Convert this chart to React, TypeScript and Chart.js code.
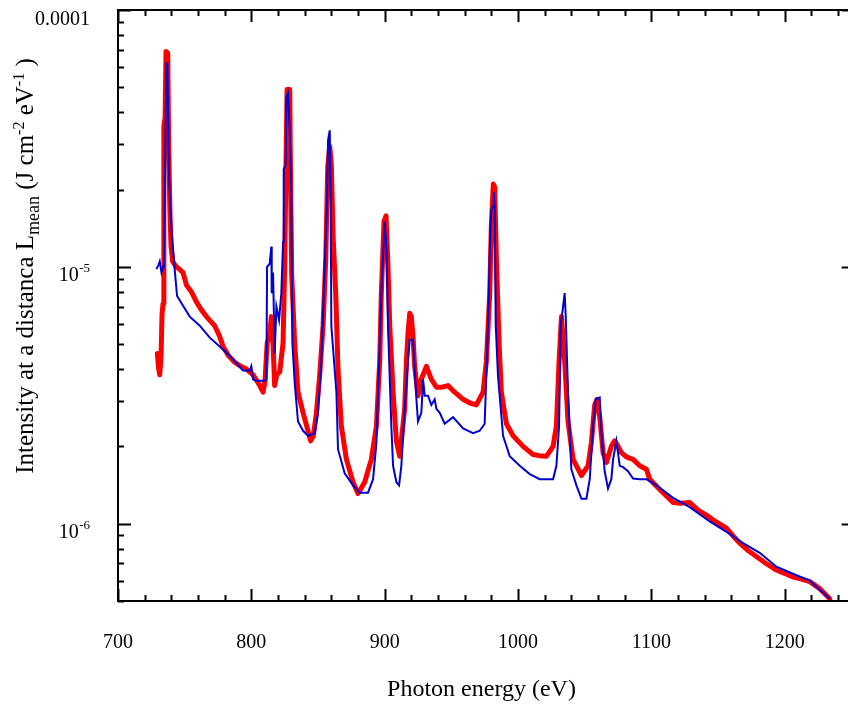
import React, { useEffect, useRef } from "react";
import { Chart, registerables } from "chart.js";

Chart.register(...registerables);

// Photon energy (eV) and intensity (J cm^-2 eV^-1)
const redEnergy = [
  729.5, 730.5, 731.3, 732.3, 733.0, 733.8, 734.4, 735.3, 736.0, 737.3, 738.0, 739.0, 739.8, 741.0, 742.5, 744.0,
  746.0, 748.8, 751.3, 755.0, 758.8, 762.5, 766.3, 772.5, 776.0, 778.8, 783.0, 787.5, 792.0, 796.3, 801.3, 806.3,
  808.8, 810.3, 811.3, 812.0, 813.5, 815.0, 816.3, 817.5, 819.0, 821.3, 823.8, 825.0, 826.0, 826.8, 828.8, 829.5,
  830.3, 832.5, 835.0, 838.8, 842.5, 844.5, 846.5, 848.8, 851.3, 853.8, 855.8, 857.3, 858.8, 860.0, 861.3, 863.3,
  865.0, 867.5, 871.3, 876.3, 880.0, 885.0, 890.0, 893.8, 896.3, 897.5, 899.5, 901.0, 902.5, 903.8, 906.3, 908.8,
  911.3, 915.0, 916.3, 917.5, 918.8, 920.0, 921.3, 922.5, 925.0, 927.5, 931.3, 935.0, 938.8, 943.0, 947.5, 952.5,
  958.8, 964.0, 968.8, 973.8, 976.3, 978.8, 980.0, 981.5, 982.5, 983.8, 985.8, 987.5, 991.3, 996.3, 1003.8, 1011.3,
  1016.0, 1021.3, 1026.3, 1028.8, 1030.8, 1032.6, 1035.0, 1037.5, 1041.3, 1047.6, 1052.5, 1055.0, 1057.5, 1059.3, 1061.3, 1063.8,
  1066.3, 1070.0, 1072.5, 1075.0, 1077.6, 1081.3, 1086.3, 1091.3, 1096.3, 1098.8, 1105.0, 1108.8, 1116.3, 1122.0, 1128.8, 1135.0,
  1141.3, 1148.0, 1156.3, 1161.0, 1166.3, 1172.0, 1178.8, 1186.0, 1193.8, 1200.0, 1206.3, 1212.0, 1218.8, 1226.0, 1233.8,
];
const redIntensity = [
  4.6e-6, 4.0e-6, 3.8e-6, 4.5e-6, 6.5e-6, 7.2e-6, 3.5e-5, 3.8e-5, 6.9e-5, 6.8e-5, 3.0e-5, 1.6e-5, 1.2e-5, 1.05e-5, 1.02e-5, 1.0e-5,
  9.8e-6, 9.5e-6, 8.5e-6, 8.0e-6, 7.3e-6, 6.8e-6, 6.4e-6, 5.9e-6, 5.4e-6, 4.9e-6, 4.5e-6, 4.25e-6, 4.1e-6, 4.0e-6, 3.8e-6, 3.45e-6,
  3.25e-6, 3.6e-6, 4.5e-6, 5.1e-6, 5.3e-6, 6.4e-6, 5.0e-6, 3.45e-6, 3.8e-6, 3.9e-6, 5.05e-6, 1.0e-5, 2.5e-5, 4.9e-5, 4.9e-5, 2.0e-5,
  9.2e-6, 5.05e-6, 3.25e-6, 2.7e-6, 2.3e-6, 2.1e-6, 2.2e-6, 2.7e-6, 3.8e-6, 5.9e-6, 1.07e-5, 2.45e-5, 2.95e-5, 2.5e-5, 1.32e-5, 7.9e-6,
  4.0e-6, 2.4e-6, 1.78e-6, 1.45e-6, 1.31e-6, 1.45e-6, 1.78e-6, 2.4e-6, 4.3e-6, 7.9e-6, 1.5e-5, 1.58e-5, 1.0e-5, 5.9e-6, 3.25e-6, 2.1e-6,
  1.83e-6, 2.8e-6, 4.3e-6, 5.5e-6, 6.6e-6, 6.4e-6, 5.3e-6, 4.1e-6, 3.15e-6, 3.65e-6, 4.1e-6, 3.65e-6, 3.4e-6, 3.4e-6, 3.45e-6, 3.25e-6,
  3.05e-6, 2.95e-6, 2.9e-6, 3.25e-6, 4.3e-6, 7.9e-6, 1.44e-5, 2.1e-5, 2.05e-5, 1.07e-5, 5.05e-6, 3.25e-6, 2.45e-6, 2.2e-6, 2.0e-6, 1.86e-6,
  1.84e-6, 1.83e-6, 2.0e-6, 2.4e-6, 4.3e-6, 6.4e-6, 4.3e-6, 2.5e-6, 1.78e-6, 1.54e-6, 1.68e-6, 2.06e-6, 2.9e-6, 3.05e-6, 2.6e-6, 1.89e-6,
  1.73e-6, 2.0e-6, 2.1e-6, 2.0e-6, 1.89e-6, 1.82e-6, 1.78e-6, 1.68e-6, 1.63e-6, 1.49e-6, 1.38e-6, 1.32e-6, 1.21e-6, 1.2e-6, 1.21e-6, 1.13e-6,
  1.08e-6, 1.02e-6, 9.6e-7, 9.0e-7, 8.4e-7, 7.9e-7, 7.45e-7, 7.0e-7, 6.6e-7, 6.4e-7, 6.2e-7, 6.1e-7, 5.95e-7, 5.6e-7, 5.1e-7,
];

const blueEnergy = [
  728.8, 730.5, 731.3, 732.6, 733.8, 734.5, 735.5, 736.3, 737.0, 738.3, 740.1, 742.5, 744.3, 745.0, 753.8, 761.3,
  768.8, 776.3, 783.8, 793.8, 798.8, 800.0, 801.3, 803.8, 810.0, 811.3, 811.8, 813.8, 815.0, 815.3, 816.3, 817.5,
  818.8, 820.8, 822.5, 823.8, 824.3, 825.8, 826.3, 827.5, 828.8, 830.0, 830.8, 832.5, 835.0, 838.8, 842.5, 847.5,
  850.0, 852.5, 855.0, 856.8, 857.5, 858.8, 859.5, 860.0, 863.8, 865.0, 870.0, 876.3, 881.3, 887.5, 891.3, 893.8,
  895.8, 897.5, 898.8, 900.0, 901.3, 902.5, 905.0, 906.3, 908.8, 910.8, 912.5, 915.0, 917.5, 918.8, 921.3, 922.5,
  923.8, 925.0, 927.5, 928.8, 930.0, 932.5, 935.0, 937.5, 938.8, 941.3, 945.0, 951.3, 958.8, 966.3, 971.3, 975.0,
  977.5, 979.3, 980.0, 981.3, 981.8, 982.5, 983.3, 985.0, 988.8, 993.8, 1001.3, 1008.8, 1016.3, 1026.3, 1028.8, 1030.8,
  1032.0, 1033.8, 1035.0, 1035.8, 1037.5, 1040.0, 1043.8, 1047.6, 1051.3, 1053.8, 1056.3, 1058.3, 1061.3, 1062.6, 1065.0, 1067.5,
  1070.0, 1071.3, 1073.8, 1076.3, 1078.8, 1082.5, 1086.3, 1091.3, 1096.3, 1103.8, 1116.3, 1128.8, 1143.8, 1156.3, 1168.8, 1181.3,
  1193.8, 1208.8, 1218.8, 1233.8,
];
const blueIntensity = [
  9.8e-6, 1.02e-5, 1.05e-5, 9.5e-6, 1.0e-5, 1.0e-5, 3.0e-5, 6.2e-5, 6.2e-5, 2.2e-5, 1.4e-5, 9.8e-6, 7.7e-6, 7.6e-6, 6.4e-6, 5.9e-6,
  5.3e-6, 4.9e-6, 4.5e-6, 3.95e-6, 3.95e-6, 4.1e-6, 3.65e-6, 3.6e-6, 3.6e-6, 3.65e-6, 1.0e-5, 1.03e-5, 1.2e-5, 7.9e-6, 9.5e-6, 4.6e-6,
  7.0e-6, 6.2e-6, 7.9e-6, 1.25e-5, 2.4e-5, 2.5e-5, 4.6e-5, 4.76e-5, 3.4e-5, 1.95e-5, 5.05e-6, 3.55e-6, 2.5e-6, 2.3e-6, 2.2e-6, 2.25e-6,
  2.7e-6, 4.3e-6, 1.0e-5, 1.8e-5, 3.1e-5, 3.4e-5, 1.95e-5, 5.9e-6, 3.25e-6, 1.95e-6, 1.57e-6, 1.41e-6, 1.32e-6, 1.32e-6, 1.49e-6, 2.06e-6,
  4.3e-6, 7.9e-6, 1.1e-5, 1.5e-5, 1.2e-5, 5.9e-6, 2.4e-6, 1.68e-6, 1.45e-6, 1.41e-6, 1.68e-6, 2.8e-6, 4.3e-6, 5.2e-6, 5.2e-6, 4.0e-6,
  3.05e-6, 2.5e-6, 2.7e-6, 3.65e-6, 3.15e-6, 3.15e-6, 2.9e-6, 3.05e-6, 2.8e-6, 2.7e-6, 2.45e-6, 2.6e-6, 2.35e-6, 2.25e-6, 2.3e-6, 2.45e-6,
  5.9e-6, 1.44e-5, 1.67e-5, 1.72e-5, 1.95e-5, 1.72e-5, 5.9e-6, 3.75e-6, 2.2e-6, 1.83e-6, 1.68e-6, 1.56e-6, 1.49e-6, 1.49e-6, 1.68e-6, 2.4e-6,
  5.9e-6, 7.0e-6, 7.9e-6, 6.4e-6, 3.25e-6, 1.63e-6, 1.41e-6, 1.25e-6, 1.25e-6, 1.49e-6, 2.4e-6, 3.05e-6, 3.1e-6, 2.25e-6, 1.6e-6, 1.37e-6,
  1.49e-6, 1.78e-6, 2.1e-6, 1.68e-6, 1.66e-6, 1.6e-6, 1.5e-6, 1.49e-6, 1.49e-6, 1.41e-6, 1.26e-6, 1.16e-6, 1.02e-6, 9.3e-7, 8.4e-7, 7.7e-7,
  6.8e-7, 6.3e-7, 6.0e-7, 5.1e-7,
];

const xMin = 700;
const xMax = 1252.5;
const yMin = 5e-7;
const yMax = 1e-4;
const xMajorTicks = [700, 800, 900, 1000, 1100, 1200];
const xMinorStep = 20;
const yMajorTicks = [1e-4, 1e-5, 1e-6];
const yTickBase = ["0.0001", "10", "10"];
const yTickExp = ["", "-5", "-6"];
const xTitle = "Photon energy (eV)";
const yTitleParts: [string, "n" | "sub" | "sup"][] = [
  ["Intensity at a distanca L", "n"],
  ["mean", "sub"],
  [" (J cm", "n"],
  ["-2", "sup"],
  [" eV", "n"],
  ["-1", "sup"],
  [" )", "n"],
];

const FONT = '"Liberation Serif", "Times New Roman", serif';

const framePlugin = {
  id: "framePlugin",
  afterDraw(chart: any) {
    const ctx: CanvasRenderingContext2D = chart.ctx;
    const xs = chart.scales.x;
    const ys = chart.scales.y;
    const { left, right, top, bottom } = chart.chartArea;
    ctx.save();
    ctx.strokeStyle = "#000";
    ctx.fillStyle = "#000";
    ctx.lineWidth = 2;
    ctx.lineCap = "butt";
    ctx.strokeRect(left, top, right - left, bottom - top);

    const seg = (x1: number, y1: number, x2: number, y2: number) => {
      ctx.beginPath();
      ctx.moveTo(x1, y1);
      ctx.lineTo(x2, y2);
      ctx.stroke();
    };

    // x ticks
    for (let v = xMin; v <= xMax + 1e-6; v += xMinorStep) {
      const px = Math.round(xs.getPixelForValue(v)) + 0.5;
      const major = xMajorTicks.includes(v);
      const len = major ? 12 : 6;
      seg(px, bottom, px, bottom - len);
      seg(px, top, px, top + len);
    }
    // y ticks (log)
    for (let e = -7; e <= -4; e++) {
      for (let m = 1; m <= 9; m++) {
        const v = m * Math.pow(10, e);
        if (v < yMin * 0.999 || v > yMax * 1.001) continue;
        const py = Math.round(ys.getPixelForValue(v)) + 0.5;
        const len = m === 1 ? 13 : 6;
        seg(left, py, left + len, py);
        seg(right, py, right - len, py);
      }
    }

    // x labels
    ctx.font = `20px ${FONT}`;
    ctx.textAlign = "center";
    ctx.textBaseline = "alphabetic";
    xMajorTicks.forEach((v) => {
      ctx.fillText(String(v), xs.getPixelForValue(v), bottom + 47);
    });

    // y labels
    const labelRight = 90;
    yMajorTicks.forEach((v, i) => {
      const py = ys.getPixelForValue(v);
      const base = py + 14.5;
      ctx.textAlign = "right";
      let xr = labelRight;
      if (yTickExp[i]) {
        ctx.font = `13px ${FONT}`;
        ctx.fillText(yTickExp[i], xr, base - 9);
        xr -= ctx.measureText(yTickExp[i]).width + 0.5;
      }
      ctx.font = `20px ${FONT}`;
      ctx.fillText(yTickBase[i], xr, base);
    });

    // x title
    ctx.font = `24px ${FONT}`;
    ctx.textAlign = "center";
    ctx.fillText(xTitle, 481.5, 696);

    // y title (rotated, mixed sub/superscripts)
    const fontFor = (k: string) => (k === "n" ? `25px ${FONT}` : k === "sub" ? `18px ${FONT}` : `16px ${FONT}`);
    let total = 0;
    const widths = yTitleParts.map(([t, k]) => {
      ctx.font = fontFor(k);
      const w = ctx.measureText(t).width;
      total += w;
      return w;
    });
    ctx.save();
    ctx.translate(33, 266);
    ctx.rotate(-Math.PI / 2);
    ctx.textAlign = "left";
    let x = -total / 2;
    yTitleParts.forEach(([t, k], i) => {
      ctx.font = fontFor(k);
      const dy = k === "sub" ? 6 : k === "sup" ? -9 : 0;
      ctx.fillText(t, x, dy);
      x += widths[i];
    });
    ctx.restore();
    ctx.restore();
  },
};

export default function App() {
  const ref = useRef<HTMLCanvasElement | null>(null);
  useEffect(() => {
    if (!ref.current) return;
    const toPts = (xs: number[], ys: number[]) => xs.map((x, i) => ({ x, y: ys[i] }));
    const chart = new Chart(ref.current, {
      type: "line",
      data: {
        datasets: [
          {
            label: "blue",
            data: toPts(blueEnergy, blueIntensity),
            borderColor: "#0000d0",
            borderWidth: 2,
            pointRadius: 0,
            tension: 0,
            fill: false,
            order: 0,
          },
          {
            label: "red",
            data: toPts(redEnergy, redIntensity),
            borderColor: "#ff0000",
            borderWidth: 5,
            borderJoinStyle: "round",
            borderCapStyle: "round",
            pointRadius: 0,
            tension: 0,
            fill: false,
            order: 1,
          },
        ],
      },
      options: {
        animation: false,
        responsive: false,
        maintainAspectRatio: false,
        devicePixelRatio: 1,
        layout: { padding: { left: 118, top: 10, right: 7.33, bottom: 103 } },
        plugins: { legend: { display: false }, tooltip: { enabled: false } },
        events: [],
        scales: {
          x: { type: "linear", min: xMin, max: xMax, display: false },
          y: { type: "logarithmic", min: yMin, max: yMax, display: false },
        },
      },
      plugins: [framePlugin],
    } as any);
    return () => chart.destroy();
  }, []);
  return (
    <canvas
      ref={ref}
      width={862}
      height={704}
      style={{ position: "fixed", left: 0, top: 0, width: 862, height: 704, background: "#fff" }}
    />
  );
}
